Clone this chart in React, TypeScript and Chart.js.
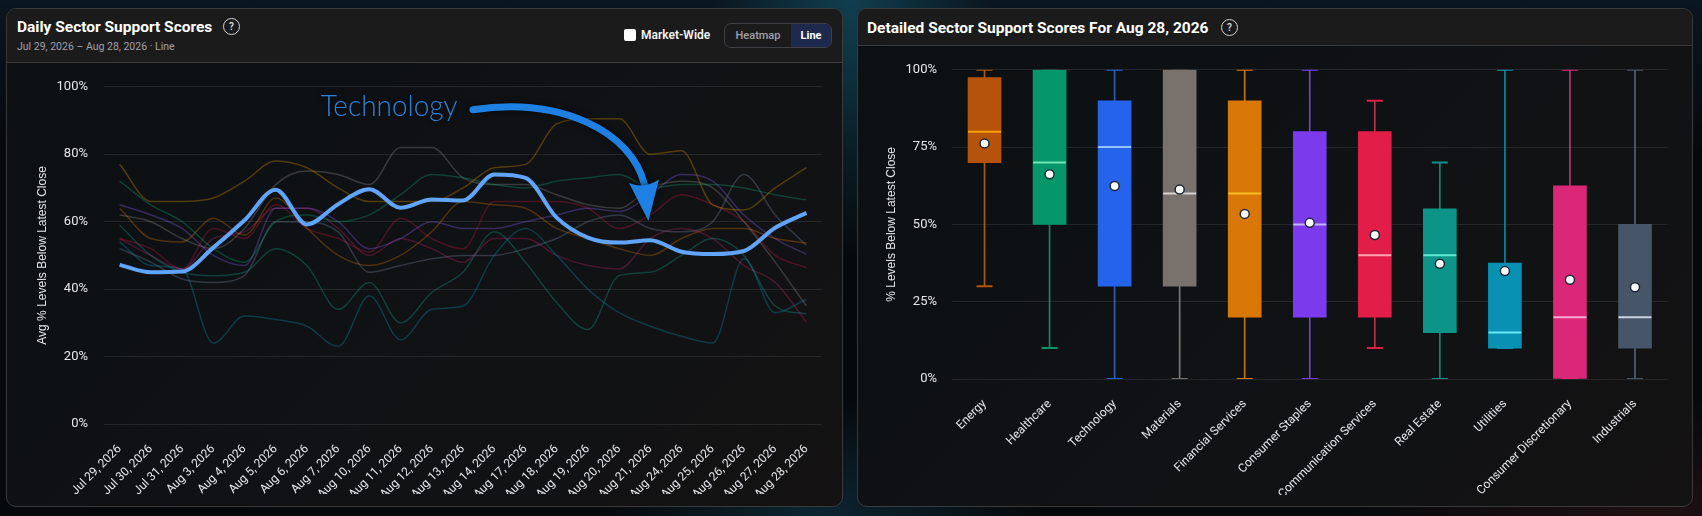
import React, { useEffect, useRef } from 'react';
import { Chart, registerables } from 'chart.js';

Chart.register(...registerables);

// ---------- Left chart data ----------
const dates = [
  'Jul 29, 2026', 'Jul 30, 2026', 'Jul 31, 2026', 'Aug 3, 2026', 'Aug 4, 2026', 'Aug 5, 2026',
  'Aug 6, 2026', 'Aug 7, 2026', 'Aug 10, 2026', 'Aug 11, 2026', 'Aug 12, 2026', 'Aug 13, 2026',
  'Aug 14, 2026', 'Aug 17, 2026', 'Aug 18, 2026', 'Aug 19, 2026', 'Aug 20, 2026', 'Aug 21, 2026',
  'Aug 24, 2026', 'Aug 25, 2026', 'Aug 26, 2026', 'Aug 27, 2026', 'Aug 28, 2026',
];

const technology = [47.2, 45, 45.2, 52.3, 60.4, 69.5, 59.2, 65.2, 69.6, 64.1, 66.6, 66.3, 74, 73, 61.2, 55.3, 53.8, 54.5, 51.1, 50.4, 51.3, 58.2, 62.6];
const energy = [77, 66, 66, 67, 72, 78, 76, 70, 66, 66, 66, 70, 76, 77, 89, 90.5, 90.5, 80, 81, 65, 63.5, 70, 76];
const healthcare = [72, 65, 60, 52, 48, 60, 62, 60, 62, 68, 74, 73, 71, 70, 72, 73, 74, 70, 71, 71, 70, 68, 66.5];
const materials = [62, 60, 55, 52, 58, 71, 75, 74, 71, 82, 82, 73, 71, 71, 68, 65, 64, 70, 72, 70, 60, 48, 35];
const financial = [64, 55, 54, 61, 56, 67, 58, 50, 47, 50, 57, 66, 65, 64, 58, 55, 52, 50, 55, 58, 58, 55, 53.7];
const consumerStaples = [65, 62, 58, 50, 47, 64, 64, 60, 52, 55, 60, 58, 58, 60, 62, 64, 63, 68, 74, 72, 62, 55, 50.3];
const communication = [55, 52, 46, 58, 55, 65, 58, 55, 51, 61, 55, 52, 66, 66, 66, 64, 58, 62, 68, 65, 60, 50, 46.4];
const realEstate = [59, 50, 45, 44, 45, 52, 47, 34, 42, 30, 39, 45, 57, 48, 36, 28, 44, 45, 50, 55, 50, 35, 32.6];
const utilities = [54, 47, 46, 24, 32, 31, 29, 23, 38, 25, 34, 35, 50, 58, 50, 40, 33, 29, 26, 24, 49, 33, 37];
const consumerDisc = [55, 50, 46, 55, 57, 64, 64, 58, 50, 55, 52, 48, 55, 55, 50, 47, 46, 55, 58, 55, 47, 42, 30.2];
const industrials = [52, 48, 43, 42, 44, 60, 60, 57, 45, 47, 49, 50, 50, 52, 55, 60, 62, 58, 57, 60, 74, 62, 53];

const yTicksLeft = [0, 20, 40, 60, 80, 100];

// ---------- Right chart data ----------
const sectors = [
  'Energy', 'Healthcare', 'Technology', 'Materials', 'Financial Services', 'Consumer Staples',
  'Communication Services', 'Real Estate', 'Utilities', 'Consumer Discretionary', 'Industrials',
];
const whiskerMin = [30, 10, 0, 0, 0, 0, 10, 0, 10, 0, 0];
const whiskerMax = [100, 100, 100, 100, 100, 100, 90, 70, 100, 100, 100];
const q1 = [70, 50, 30, 30, 20, 20, 20, 15, 10, 0, 10];
const q3 = [97.5, 100, 90, 100, 90, 80, 80, 55, 37.5, 62.5, 50];
const medians = [80, 70, 75, 60, 60, 50, 40, 40, 15, 20, 20];
const means = [76.2, 66.2, 62.4, 61.3, 53.4, 50.5, 46.6, 37.3, 34.9, 32.1, 29.7];

const boxColors = ['#b45309', '#059669', '#2563eb', '#78716c', '#d97706', '#7c3aed', '#e11d48', '#0d9488', '#0891b2', '#db2777', '#475569'];
const whiskerColors = ['rgba(217,119,6,0.75)', 'rgba(16,185,129,0.7)', 'rgba(59,130,246,0.7)', 'rgba(168,162,158,0.7)', 'rgba(245,158,11,0.75)', 'rgba(139,92,246,0.75)', 'rgba(244,63,94,0.75)', 'rgba(20,184,166,0.7)', 'rgba(6,182,212,0.7)', 'rgba(236,72,153,0.75)', 'rgba(100,116,139,0.8)'];
const medianColors = ['#f59e0b', '#6ee7b7', '#93c5fd', '#d6d3d1', '#fbbf24', '#c4b5fd', '#fda4af', '#5eead4', '#67e8f9', '#f9a8d4', '#cbd5e1'];

// annotation anchors (in data space: category index, value)
const labelAnchor = { index: 6.44, value: 91.2, text: 'Technology' };
const arrowCurve = [[11.32, 93.2], [14.15, 97.05], [16.4, 86.7], [16.81, 71.1]];
const arrowTip = [16.94, 60.2];

const TICK_COLOR = '#e5e7eb';
const GRID_COLOR = 'rgba(255,255,255,0.09)';

const annotationPlugin = {
  id: 'techAnnotation',
  afterDatasetsDraw(chart: any) {
    const { ctx, scales } = chart;
    const xs = scales.x;
    const ys = scales.y;
    const px = (p: number[]) => [xs.getPixelForValue(p[0]), ys.getPixelForValue(p[1])];
    ctx.save();
    // label
    const [lx, ly] = px([labelAnchor.index, labelAnchor.value]);
    ctx.font = '300 30px Lato, "Open Sans", sans-serif';
    const w = ctx.measureText(labelAnchor.text).width;
    const target = 137;
    ctx.translate(lx, ly);
    ctx.scale(target / w, 1);
    ctx.shadowColor = 'rgba(0,0,0,0.7)';
    ctx.shadowBlur = 4;
    ctx.fillStyle = '#2f80d8';
    ctx.textBaseline = 'alphabetic';
    ctx.fillText(labelAnchor.text, 0, 0);
    ctx.setTransform(chart.currentDevicePixelRatio, 0, 0, chart.currentDevicePixelRatio, 0, 0);
    // arrow shaft
    const p0 = px(arrowCurve[0]);
    const p1 = px(arrowCurve[1]);
    const p2 = px(arrowCurve[2]);
    const p3 = px(arrowCurve[3]);
    const tip = px(arrowTip);
    ctx.shadowColor = 'rgba(0,0,0,0.6)';
    ctx.shadowBlur = 6;
    ctx.strokeStyle = '#1d80e2';
    ctx.lineWidth = 7;
    ctx.lineCap = 'round';
    ctx.beginPath();
    ctx.moveTo(p0[0], p0[1]);
    ctx.bezierCurveTo(p1[0], p1[1], p2[0], p2[1], p3[0], p3[1]);
    ctx.stroke();
    // arrow head
    const dx = tip[0] - p3[0];
    const dy = tip[1] - p3[1];
    const len = Math.hypot(dx, dy) || 1;
    const ux = dx / len, uy = dy / len;
    const nx = -uy, ny = ux;
    const bx = p3[0] - ux * 3, by = p3[1] - uy * 3;
    const half = 15;
    ctx.fillStyle = '#1d80e2';
    ctx.beginPath();
    ctx.moveTo(tip[0], tip[1]);
    ctx.lineTo(bx + nx * half, by + ny * half);
    ctx.quadraticCurveTo(bx + ux * 8, by + uy * 8, bx - nx * half, by - ny * half);
    ctx.closePath();
    ctx.fill();
    ctx.restore();
  },
};

function LineChart() {
  const ref = useRef<HTMLCanvasElement>(null);
  useEffect(() => {
    if (!ref.current) return;
    const others = [
      { label: 'Energy', data: energy, color: 'rgba(202,138,4,0.36)' },
      { label: 'Healthcare', data: healthcare, color: 'rgba(16,185,129,0.28)' },
      { label: 'Materials', data: materials, color: 'rgba(168,162,158,0.28)' },
      { label: 'Financial Services', data: financial, color: 'rgba(217,119,6,0.32)' },
      { label: 'Consumer Staples', data: consumerStaples, color: 'rgba(139,92,246,0.32)' },
      { label: 'Communication Services', data: communication, color: 'rgba(225,29,72,0.28)' },
      { label: 'Real Estate', data: realEstate, color: 'rgba(20,184,166,0.28)' },
      { label: 'Utilities', data: utilities, color: 'rgba(8,145,178,0.32)' },
      { label: 'Consumer Discretionary', data: consumerDisc, color: 'rgba(219,39,119,0.28)' },
      { label: 'Industrials', data: industrials, color: 'rgba(100,116,139,0.4)' },
    ];
    const chart = new Chart(ref.current, {
      type: 'line',
      data: {
        labels: dates,
        datasets: [
          ...others.map((o, i) => ({
            label: o.label,
            data: o.data,
            borderColor: o.color,
            borderWidth: 1.5,
            pointRadius: 0,
            cubicInterpolationMode: 'monotone' as const,
            fill: false,
            order: 10 + i,
          })),
          {
            label: 'Technology',
            data: technology,
            borderColor: '#60a5fa',
            borderWidth: 4,
            pointRadius: 0,
            cubicInterpolationMode: 'monotone' as const,
            fill: false,
            order: 0,
          },
        ],
      },
      options: {
        animation: false,
        responsive: false,
        maintainAspectRatio: false,
        events: [],
        layout: { padding: { left: 17, top: 22, right: 14, bottom: 0 } },
        plugins: { legend: { display: false }, tooltip: { enabled: false } },
        scales: {
          x: {
            offset: true,
            grid: { display: false },
            border: { display: false },
            ticks: {
              autoSkip: false,
              maxRotation: 45,
              minRotation: 45,
              color: TICK_COLOR,
              font: { family: 'Roboto', size: 12 },
              padding: 10,
            },
            afterFit: (s: any) => { s.height = 70; },
          },
          y: {
            min: yTicksLeft[0],
            max: yTicksLeft[yTicksLeft.length - 1],
            afterBuildTicks: (s: any) => { s.ticks = yTicksLeft.map((v) => ({ value: v })); },
            grid: { color: GRID_COLOR, drawTicks: false },
            border: { display: false },
            ticks: {
              color: TICK_COLOR,
              font: { family: 'Roboto', size: 13 },
              padding: 16,
              callback: (v: any) => `${v}%`,
            },
            title: {
              display: true,
              text: 'Avg % Levels Below Latest Close',
              color: TICK_COLOR,
              font: { family: '"Liberation Sans", Arial, sans-serif', size: 12 },
            },
            afterFit: (s: any) => { s.width = 73; },
          },
        },
      },
      plugins: [annotationPlugin],
    });
    return () => chart.destroy();
  }, []);
  return <canvas ref={ref} width={822} height={431} style={{ width: 822, height: 431, display: 'block' }} />;
}

function BoxChart() {
  const ref = useRef<HTMLCanvasElement>(null);
  useEffect(() => {
    if (!ref.current) return;
    const chart = new Chart(ref.current, {
      type: 'bar',
      data: {
        labels: sectors,
        datasets: [
          {
            type: 'bar' as const,
            label: 'whisker',
            data: whiskerMin.map((m, i) => [m, whiskerMax[i]]),
            backgroundColor: whiskerColors,
            barThickness: 1,
            grouped: false,
            borderWidth: 0,
            order: 5,
          },
          {
            type: 'line' as const,
            label: 'cap-min',
            data: whiskerMin,
            showLine: false,
            pointStyle: 'line',
            pointRadius: 8,
            pointBorderWidth: 2,
            pointBorderColor: boxColors,
            order: 4,
          },
          {
            type: 'line' as const,
            label: 'cap-max',
            data: whiskerMax,
            showLine: false,
            pointStyle: 'line',
            pointRadius: 8,
            pointBorderWidth: 2,
            pointBorderColor: boxColors,
            order: 4,
          },
          {
            type: 'bar' as const,
            label: 'box',
            data: q1.map((v, i) => [v, q3[i]]),
            backgroundColor: boxColors,
            barThickness: 33,
            grouped: false,
            borderWidth: 0,
            order: 3,
          },
          {
            type: 'line' as const,
            label: 'median',
            data: medians,
            showLine: false,
            pointStyle: 'line',
            pointRadius: 16.5,
            pointBorderWidth: 2,
            pointBorderColor: medianColors,
            order: 2,
          },
          {
            type: 'line' as const,
            label: 'mean',
            data: means,
            showLine: false,
            pointStyle: 'circle',
            pointRadius: 4.5,
            pointBackgroundColor: '#ffffff',
            pointBorderColor: '#1f2937',
            pointBorderWidth: 1.5,
            order: 1,
          },
        ],
      },
      options: {
        animation: false,
        responsive: false,
        maintainAspectRatio: false,
        events: [],
        layout: { padding: { left: 16, top: 20, right: 16, bottom: 0 } },
        plugins: { legend: { display: false }, tooltip: { enabled: false } },
        scales: {
          x: {
            offset: true,
            grid: { display: false },
            border: { display: false },
            ticks: {
              autoSkip: false,
              maxRotation: 45,
              minRotation: 45,
              color: TICK_COLOR,
              font: { family: 'Roboto', size: 12 },
              padding: 10,
            },
            afterFit: (s: any) => { s.height = 116; },
          },
          y: {
            min: 0,
            max: 100,
            grid: { color: GRID_COLOR, drawTicks: false },
            border: { display: false },
            ticks: {
              stepSize: 25,
              color: TICK_COLOR,
              font: { family: 'Roboto', size: 13 },
              padding: 15,
              callback: (v: any) => `${v}%`,
            },
            title: {
              display: true,
              text: '% Levels Below Latest Close',
              color: TICK_COLOR,
              font: { family: '"Liberation Sans", Arial, sans-serif', size: 12 },
            },
            afterFit: (s: any) => { s.width = 72; },
          },
        },
      },
    });
    return () => chart.destroy();
  }, []);
  return <canvas ref={ref} width={822} height={448} style={{ width: 822, height: 448, display: 'block' }} />;
}

const panelStyle: React.CSSProperties = {
  position: 'absolute',
  top: 8,
  height: 499,
  boxSizing: 'border-box',
  border: '1px solid #3a3a3a',
  borderRadius: 10,
  overflow: 'hidden',
  background: 'linear-gradient(135deg, #0c1013 0%, #101214 60%, #141213 100%)',
};

function HelpIcon({ left, top }: { left: number; top: number }) {
  return (
    <div
      style={{
        position: 'absolute', left, top, width: 15, height: 15, borderRadius: '50%',
        border: '1.5px solid #d4d4d8', color: '#e4e4e7', fontSize: 10, lineHeight: '15px',
        textAlign: 'center', fontFamily: 'Roboto, sans-serif', fontWeight: 500,
      }}
    >
      ?
    </div>
  );
}

export default function App() {
  useEffect(() => {
    document.body.style.margin = '0';
    document.body.style.background = '#06090c';
  }, []);
  return (
    <div
      style={{
        position: 'fixed', left: 0, top: 0, width: 1702, height: 516, overflow: 'hidden',
        fontFamily: 'Roboto, sans-serif',
        background:
          'radial-gradient(ellipse 140px 260px at 850px 0px, rgba(22,96,118,0.55), rgba(22,96,118,0) 100%),' +
          'radial-gradient(ellipse 220px 120px at 820px 516px, rgba(20,70,95,0.45), rgba(20,70,95,0) 100%),' +
          'radial-gradient(ellipse 300px 120px at 1650px 516px, rgba(70,25,30,0.4), rgba(70,25,30,0) 100%),' +
          'linear-gradient(180deg, #0a1620 0%, #06090c 30%, #06090c 100%)',
      }}
    >
      {/* Left panel */}
      <div style={{ ...panelStyle, left: 6, width: 837 }}>
        <div style={{ position: 'absolute', left: 0, top: 0, right: 0, height: 53, background: '#1b1b1c', borderBottom: '1px solid #3a3a3a' }} />
        <div style={{ position: 'absolute', left: 10, top: 9, color: '#ffffff', fontSize: 15.5, fontWeight: 700, lineHeight: '18px', whiteSpace: 'nowrap' }}>
          Daily Sector Support Scores
        </div>
        <HelpIcon left={216} top={9} />
        <div style={{ position: 'absolute', left: 10, top: 31, color: '#a1a1aa', fontSize: 10.5, lineHeight: '14px', whiteSpace: 'nowrap' }}>
          Jul 29, 2026 – Aug 28, 2026 · Line
        </div>
        <div style={{ position: 'absolute', left: 617, top: 20, width: 12, height: 12, background: '#ffffff', borderRadius: 2 }} />
        <div style={{ position: 'absolute', left: 634, top: 18, color: '#f4f4f5', fontSize: 12, fontWeight: 600, lineHeight: '16px', whiteSpace: 'nowrap' }}>
          Market-Wide
        </div>
        <div
          style={{
            position: 'absolute', left: 717, top: 14, width: 108, height: 25, boxSizing: 'border-box',
            border: '1px solid #3f3f46', borderRadius: 7, overflow: 'hidden', display: 'flex',
            fontSize: 11, lineHeight: '23px',
          }}
        >
          <div style={{ width: 66, textAlign: 'center', color: '#a1a1aa', fontWeight: 500 }}>Heatmap</div>
          <div style={{ flex: 1, textAlign: 'center', color: '#ffffff', fontWeight: 700, background: '#1e2a4d' }}>Line</div>
        </div>
        <div style={{ position: 'absolute', left: 7, top: 54 }}>
          <LineChart />
        </div>
      </div>

      {/* Right panel */}
      <div style={{ ...panelStyle, left: 857, width: 836 }}>
        <div style={{ position: 'absolute', left: 0, top: 0, right: 0, height: 36, background: '#1b1b1c', borderBottom: '1px solid #3a3a3a' }} />
        <div style={{ position: 'absolute', left: 9, top: 10, color: '#ffffff', fontSize: 15.5, fontWeight: 700, lineHeight: '18px', whiteSpace: 'nowrap' }}>
          Detailed Sector Support Scores For Aug 28, 2026
        </div>
        <HelpIcon left={363} top={10} />
        <div style={{ position: 'absolute', left: 6, top: 38 }}>
          <BoxChart />
        </div>
      </div>
    </div>
  );
}
